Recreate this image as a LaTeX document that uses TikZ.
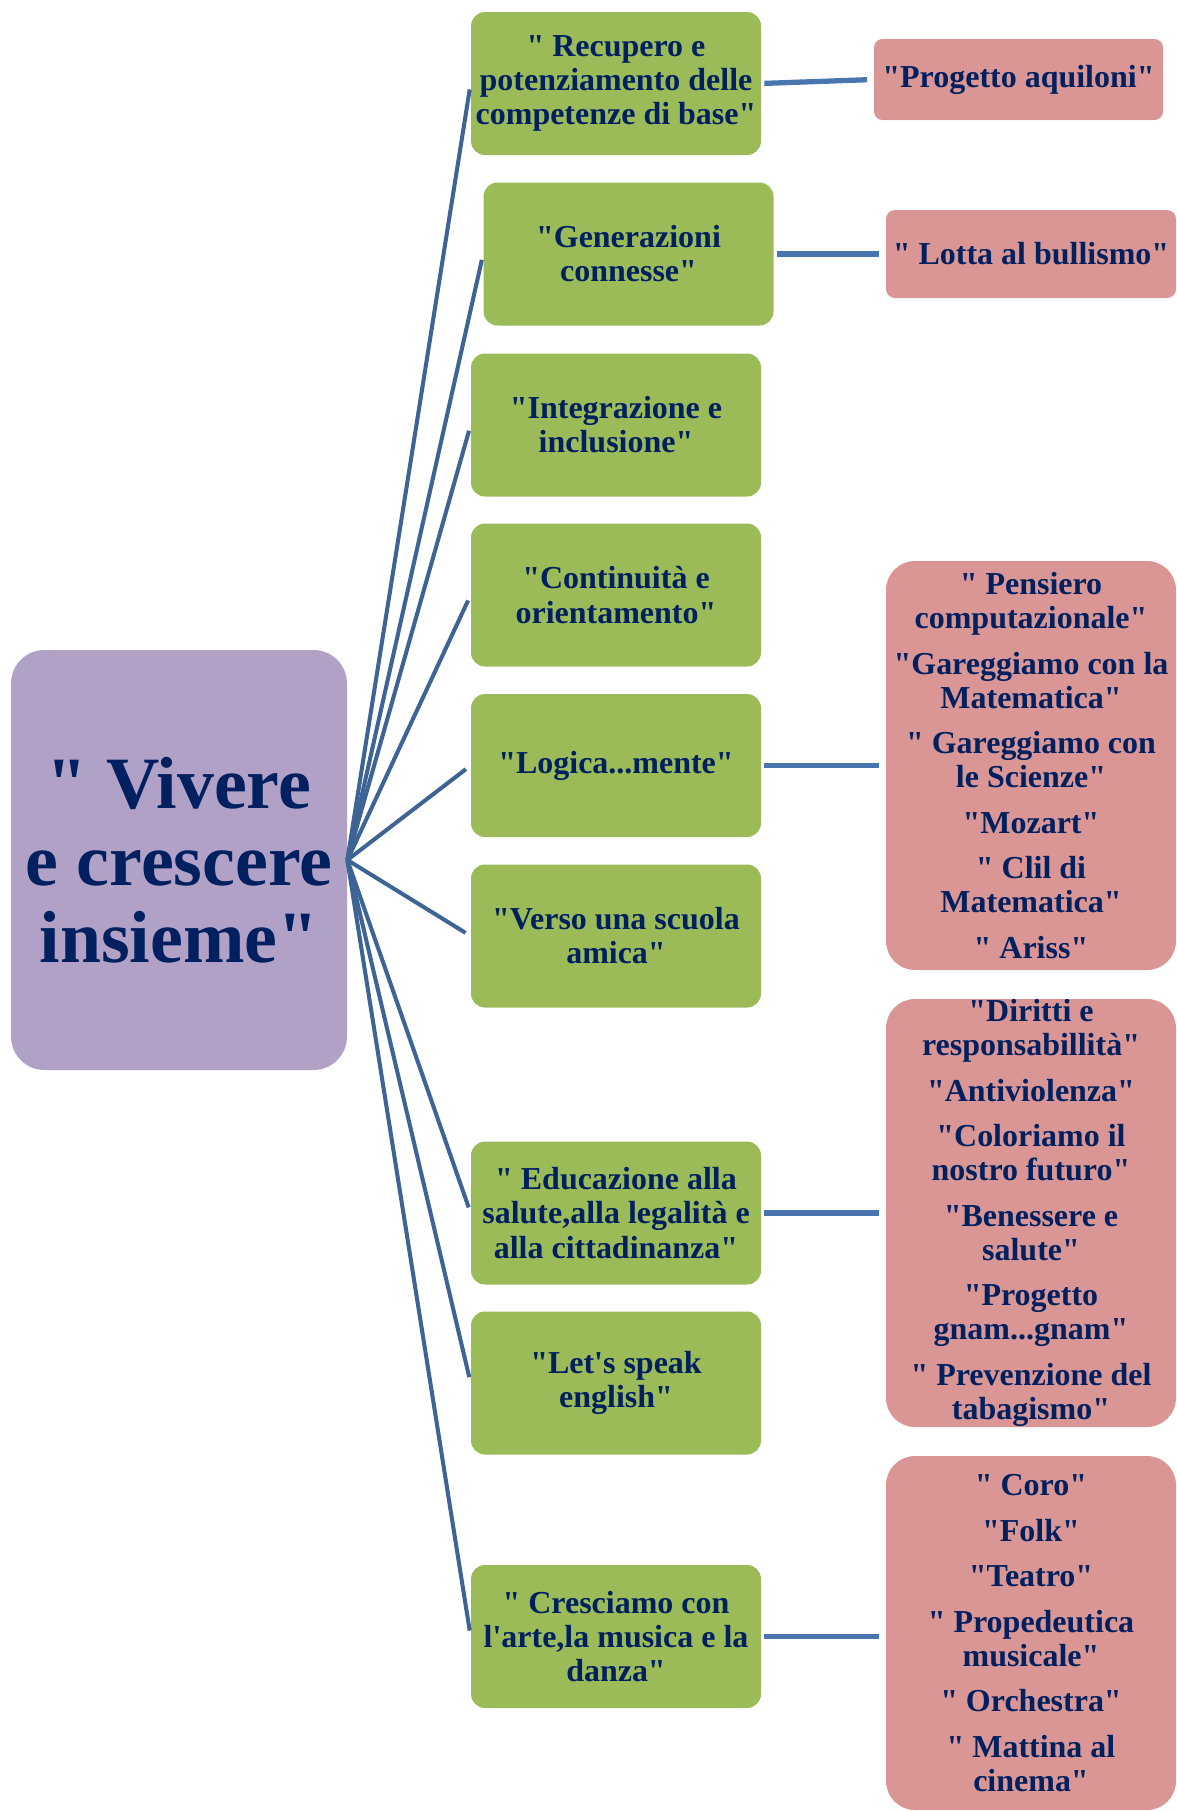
\documentclass[tikz,border=0pt]{standalone}
\usepackage{fontspec}
\newfontfamily\mapfont{Liberation Serif}
\definecolor{navytext}{RGB}{0,32,96}
\definecolor{topicgreen}{RGB}{155,187,89}
\definecolor{projectpink}{RGB}{217,150,148}
\definecolor{hubviolet}{RGB}{178,161,199}
\definecolor{spokeblue}{RGB}{62,100,150}
\definecolor{linkblue}{RGB}{74,118,176}

\begin{document}
\begin{tikzpicture}[
  font=\mapfont\bfseries\fontsize{18.2}{19.4}\selectfont,
  every node/.style={text=navytext, align=center, inner sep=0pt},
  hub/.style={fill=hubviolet, rounded corners=0.67cm, minimum width=6.72cm, minimum height=8.4cm, font=\mapfont\bfseries\fontsize{42}{43.8}\selectfont},
  topic/.style={fill=topicgreen, rounded corners=0.28cm, minimum width=5.8cm, minimum height=2.86cm},
  project/.style={fill=projectpink, rounded corners=0.58cm, minimum width=5.8cm},
  spoke/.style={draw=spokeblue, line width=2.3pt, shorten >=0.12cm},
  link/.style={draw=linkblue, line width=3pt, shorten <=0.06cm, shorten >=0.13cm}
]
  \useasboundingbox (0,0) rectangle (23.52,-36.22);
  \node[hub] (vivere) at (3.58,-17.2) {" Vivere\\e crescere\\insieme"};
  \node[topic] (recupero) at (12.32,-1.67) {" Recupero e\\potenziamento delle\\competenze di base"};
  \node[topic] (generazioni) at (12.57,-5.08) {"Generazioni\\connesse"};
  \node[topic] (integrazione) at (12.32,-8.5) {"Integrazione e\\inclusione"};
  \node[topic] (continuita) at (12.32,-11.9) {"Continuità e\\orientamento"};
  \node[topic] (logica) at (12.32,-15.31) {"Logica...mente"};
  \node[topic] (scuola) at (12.32,-18.72) {"Verso una scuola\\amica"};
  \node[topic] (educazione) at (12.32,-24.26) {" Educazione alla\\salute,alla legalità e\\alla cittadinanza"};
  \node[topic] (english) at (12.32,-27.66) {"Let's speak\\english"};
  \node[topic] (arte) at (12.32,-32.73) {" Cresciamo con\\l'arte,la musica e la\\danza"};
  \node[project, rounded corners=0.17cm, minimum width=5.78cm, minimum height=1.62cm] (aquiloni) at (20.37,-1.59) {"Progetto aquiloni"};
  \node[project, rounded corners=0.18cm, minimum height=1.76cm] (bullismo) at (20.62,-5.08) {" Lotta al bullismo"};
  \node[project, minimum height=8.18cm] (logicalist) at (20.62,-15.31) {" Pensiero\\computazionale"\\[6.5pt]"Gareggiamo con la\\Matematica"\\[6.5pt]" Gareggiamo con\\le Scienze"\\[6.5pt]"Mozart"\\[6.5pt]" Clil di\\Matematica"\\[6.5pt]" Ariss"};
  \node[project, minimum height=8.56cm] (salutelist) at (20.62,-24.26) {"Diritti e\\responsabillità"\\[6.5pt]"Antiviolenza"\\[6.5pt]"Coloriamo il\\nostro futuro"\\[6.5pt]"Benessere e\\salute"\\[6.5pt]"Progetto\\gnam...gnam"\\[6.5pt]" Prevenzione del\\tabagismo"};
  \node[project, minimum height=7.08cm] (artelist) at (20.62,-32.66) {" Coro"\\[6.5pt]"Folk"\\[6.5pt]"Teatro"\\[6.5pt]" Propedeutica\\musicale"\\[6.5pt]" Orchestra"\\[6.5pt]" Mattina al\\cinema"};
\draw[spoke] (vivere.east)--(recupero.west);
\draw[spoke] (vivere.east)--(generazioni.west);
\draw[spoke] (vivere.east)--(integrazione.west);
\draw[spoke] (vivere.east)--(continuita.west);
\draw[spoke] (vivere.east)--(logica.west);
\draw[spoke] (vivere.east)--(scuola.west);
\draw[spoke] (vivere.east)--(educazione.west);
\draw[spoke] (vivere.east)--(english.west);
\draw[spoke] (vivere.east)--(arte.west);
\draw[link] (recupero.east)--(aquiloni.west);
\draw[link] (generazioni.east)--(bullismo.west);
\draw[link] (logica.east)--(logicalist.west);
\draw[link] (educazione.east)--(salutelist.west);
\draw[link] (arte.east)--(arte.east -| artelist.west);
\end{tikzpicture}
\end{document}
